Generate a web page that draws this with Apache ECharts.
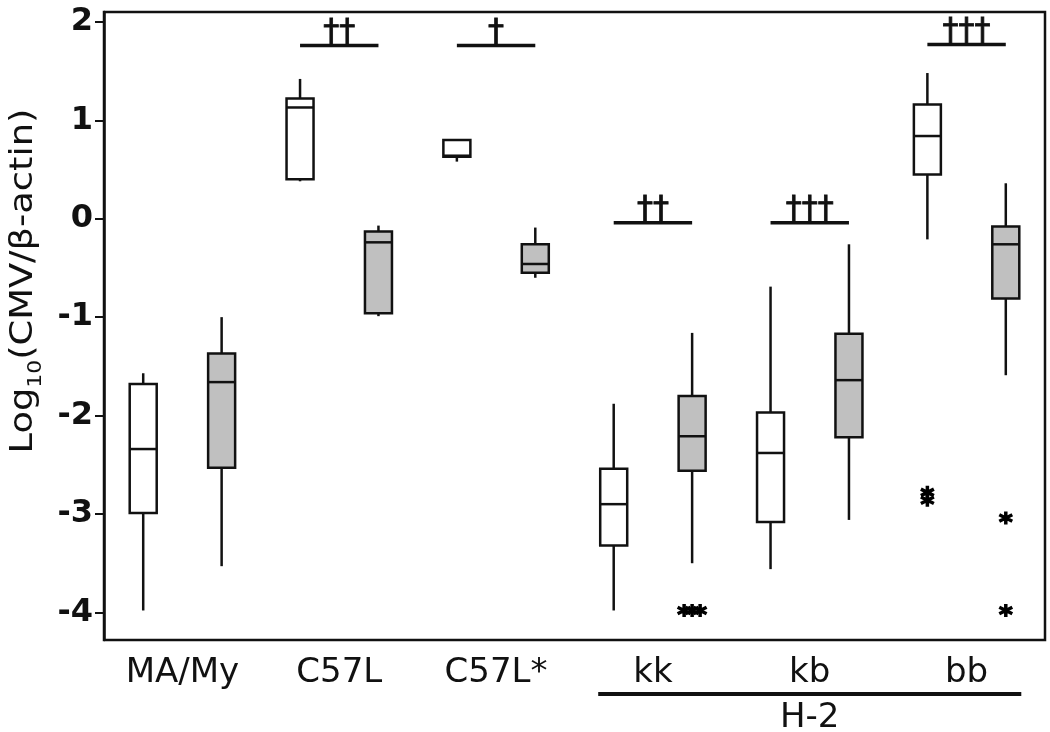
<!DOCTYPE html>
<html><head><meta charset="utf-8">
<script src="https://cdn.jsdelivr.net/npm/echarts@6/dist/echarts.min.js"></script>
<style>html,body{margin:0;padding:0;background:#fff}#c{width:1050px;height:732px}</style>
</head><body><div id="c"></div>
<script>
// ---- data ----
const boxNames = ['MA/My-1','MA/My-2','C57L-1','C57L-2','C57L*-1','C57L*-2','kk-1','kk-2','kb-1','kb-2','bb-1','bb-2'];
const groupLabels = ['MA/My','C57L','C57L*','kk','kb','bb'];
const whiskerLow  = [-3.98, -3.53, 0.38, -0.99, 0.58, -0.60, -3.98, -3.50, -3.56, -3.06, -0.21, -1.59];
const q1          = [-2.99, -2.53, 0.40, -0.96, 0.63, -0.55, -3.32, -2.56, -3.08, -2.22,  0.45, -0.81];
const median      = [-2.34, -1.66, 1.13, -0.24, 0.64, -0.46, -2.90, -2.21, -2.38, -1.64,  0.84, -0.26];
const q3          = [-1.68, -1.37, 1.22, -0.13, 0.80, -0.26, -2.54, -1.80, -1.97, -1.17,  1.16, -0.08];
const whiskerHigh = [-1.57, -1.00, 1.42, -0.07, 0.80, -0.09, -1.88, -1.16, -0.69, -0.26,  1.48,  0.36];
const yTicks = [-4, -3, -2, -1, 0, 1, 2];
const outlierBox   = [7, 7, 7, 10, 10, 11, 11];
const outlierValue = [-3.98, -3.98, -3.98, -2.78, -2.86, -3.04, -3.98];
const sigFrom  = [2, 4, 6, 8, 10];
const sigTo    = [3, 5, 7, 9, 11];
const sigLevel = [1.76, 1.76, -0.04, -0.04, 1.77];
const sigMarks = ['††', '†', '††', '†††', '†††'];
const bracketFrom = 6, bracketTo = 11, bracketLabel = 'H-2';
const yTitleRich = '{a|Log}{b|10}{a|(CMV/β-actin)}';

// ---- styles ----
const INK = '#111';
const GRAY = '#c0c0c0';
const FONT = 'DejaVu Sans';
const BOXW = 27;

// spread coincident outliers horizontally (display only)
const jitter = outlierBox.map((b, k) => {
  const same = outlierBox.map((bb, j) => j).filter(j => outlierBox[j] === b && Math.abs(outlierValue[j] - outlierValue[k]) < 0.03);
  if (same.length < 2) return 0;
  const pos = same.indexOf(k);
  return (pos - (same.length - 1) / 2) * 8;
});

const asterisk = 'path://M6,0L6,12M0.8,3L11.2,9M0.8,9L11.2,3';

const chart = echarts.init(document.getElementById('c'), null, {renderer: 'canvas'});
chart.setOption({
  animation: false,
  backgroundColor: '#fff',
  grid: {left: 104, right: 5, top: 12, bottom: 92, show: true, borderColor: INK, borderWidth: 2.5, backgroundColor: 'transparent'},
  xAxis: [
    {type: 'category', data: boxNames, boundaryGap: true,
      axisLine: {show: false}, axisTick: {show: false}, axisLabel: {show: false}, splitLine: {show: false}},
    {type: 'category', data: groupLabels, boundaryGap: true, position: 'bottom',
      axisLine: {show: false}, axisTick: {show: false}, splitLine: {show: false},
      axisLabel: {fontSize: 34, fontFamily: FONT, color: INK, margin: 16}}
  ],
  yAxis: {
    type: 'value', min: -4.28, max: 2.1,
    axisLine: {show: true, lineStyle: {color: INK, width: 2.5}},
    axisTick: {show: true, inside: false, length: 9, lineStyle: {color: INK, width: 2}, customValues: yTicks},
    axisLabel: {customValues: yTicks, fontSize: 32, fontWeight: 'bold', fontFamily: FONT, color: INK, margin: 11},
    splitLine: {show: false}
  },
  graphic: [{
    type: 'text', x: 24, y: 281, rotation: Math.PI / 2, scaleX: 1.15, scaleY: 1,
    style: {
      text: yTitleRich, align: 'center', verticalAlign: 'middle',
      rich: {
        a: {fontSize: 32, fontFamily: FONT, fill: INK, lineHeight: 44},
        b: {fontSize: 19, fontFamily: FONT, fill: INK, lineHeight: 20, verticalAlign: 'bottom'}
      }
    }
  }],
  series: [
    {
      type: 'custom', name: 'boxes', xAxisIndex: 0,
      data: boxNames.map((n, i) => [i, whiskerLow[i], q1[i], median[i], q3[i], whiskerHigh[i]]),
      encode: {x: 0, y: [1, 2, 3, 4, 5]},
      renderItem: function (params, api) {
        const i = api.value(0);
        const lo = api.coord([i, api.value(1)]);
        const a = api.coord([i, api.value(2)]);
        const m = api.coord([i, api.value(3)]);
        const b = api.coord([i, api.value(4)]);
        const hi = api.coord([i, api.value(5)]);
        const x = lo[0];
        const ls = {stroke: INK, lineWidth: 2.5};
        return {type: 'group', children: [
          {type: 'line', shape: {x1: x, y1: hi[1], x2: x, y2: b[1]}, style: ls},
          {type: 'line', shape: {x1: x, y1: a[1], x2: x, y2: lo[1]}, style: ls},
          {type: 'rect', shape: {x: x - BOXW / 2, y: b[1], width: BOXW, height: a[1] - b[1]},
            style: {fill: i % 2 ? GRAY : '#fff', stroke: INK, lineWidth: 2.5}},
          {type: 'line', shape: {x1: x - BOXW / 2, y1: m[1], x2: x + BOXW / 2, y2: m[1]}, style: ls}
        ]};
      }
    },
    {
      type: 'scatter', name: 'outliers', xAxisIndex: 0,
      symbol: asterisk, symbolSize: 13,
      itemStyle: {color: '#000', borderColor: '#000', borderWidth: 3.5, opacity: 1},
      data: outlierBox.map((b, k) => ({value: [b, outlierValue[k]], symbolOffset: [jitter[k], 0]}))
    },
    {
      type: 'custom', name: 'significance', xAxisIndex: 0,
      data: sigFrom.map((f, k) => [f, sigTo[k], sigLevel[k], k]),
      encode: {x: [0, 1], y: 2},
      renderItem: function (params, api) {
        const p0 = api.coord([api.value(0), api.value(2)]);
        const p1 = api.coord([api.value(1), api.value(2)]);
        const k = api.value(3);
        return {type: 'group', children: [
          {type: 'line', shape: {x1: p0[0], y1: p0[1], x2: p1[0], y2: p1[1]}, style: {stroke: INK, lineWidth: 3.5}},
          {type: 'text', style: {text: sigMarks[k], x: (p0[0] + p1[0]) / 2, y: p0[1] + 3,
            font: '32px "DejaVu Sans"', fill: INK, stroke: INK, lineWidth: 0.8, align: 'center', verticalAlign: 'bottom'}}
        ]};
      }
    },
    {
      type: 'custom', name: 'bracket', xAxisIndex: 0, clip: false,
      data: [[bracketFrom, bracketTo, 0]],
      encode: {x: [0, 1], y: 2},
      renderItem: function (params, api) {
        const cs = params.coordSys;
        const x0 = api.coord([api.value(0), 0])[0] - BOXW / 2 - 2;
        const x1 = api.coord([api.value(1), 0])[0] + BOXW / 2 + 2;
        const yb = cs.y + cs.height;
        return {type: 'group', children: [
          {type: 'line', shape: {x1: x0, y1: yb + 54, x2: x1, y2: yb + 54}, style: {stroke: INK, lineWidth: 4}},
          {type: 'text', style: {text: bracketLabel, x: (x0 + x1) / 2, y: yb + 78,
            font: '34px "DejaVu Sans"', fill: INK, align: 'center', verticalAlign: 'middle'}}
        ]};
      }
    }
  ]
});
</script>
</body></html>
